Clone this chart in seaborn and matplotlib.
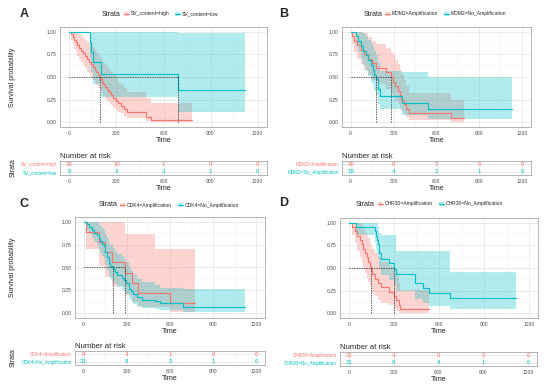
import matplotlib
matplotlib.use('Agg')
import matplotlib.pyplot as plt
import seaborn as sns
from matplotlib.patches import Patch
from matplotlib.lines import Line2D

RED = '#F8766D'
TEAL = '#00BFC4'

time_ticks = [0, 300, 600, 900, 1200]
surv_ticks = [0, 0.25, 0.5, 0.75, 1.0]

# ---- panel A : SV_content ----
a_labels = ['SV_content=high', 'SV_content=low']
a_hi_t = [0, 12, 22, 30, 40, 50, 60, 72, 85, 100, 110, 122, 135, 148, 160, 170, 182, 195, 205, 215,
          228, 240, 252, 265, 280, 295, 310, 330, 345, 370, 490, 520, 780]
a_hi_s = [1.0, 0.97, 0.94, 0.91, 0.88, 0.85, 0.82, 0.79, 0.76, 0.73, 0.70, 0.67, 0.64, 0.61, 0.58, 0.55,
          0.52, 0.48, 0.45, 0.42, 0.39, 0.36, 0.33, 0.30, 0.27, 0.24, 0.21, 0.18, 0.15, 0.12, 0.06, 0.03, 0.03]
a_hi_up = [1.0, 1.0, 1.0, 1.0, 1.0, 0.99, 0.97, 0.95, 0.93, 0.91, 0.89, 0.87, 0.85, 0.82, 0.80, 0.78,
           0.75, 0.72, 0.69, 0.66, 0.64, 0.61, 0.58, 0.55, 0.52, 0.49, 0.45, 0.42, 0.38, 0.34, 0.27, 0.21, 0.21]
a_hi_lo = [1.0, 0.91, 0.86, 0.81, 0.77, 0.73, 0.70, 0.66, 0.63, 0.60, 0.56, 0.53, 0.50, 0.47, 0.44, 0.41,
           0.38, 0.35, 0.32, 0.29, 0.26, 0.24, 0.21, 0.19, 0.16, 0.14, 0.12, 0.10, 0.07, 0.05, 0.02, 0.005, 0.005]
a_lo_t = [0, 130, 140, 150, 200, 690, 1120]
a_lo_s = [1.0, 0.889, 0.778, 0.667, 0.533, 0.356, 0.356]
a_lo_up = [1.0, 1.0, 1.0, 1.0, 1.0, 0.98, 0.98]
a_lo_lo = [1.0, 0.70, 0.55, 0.42, 0.28, 0.12, 0.12]
a_medians = [195, 690]
a_risk_hi = [33, 10, 1, 0, 0]
a_risk_lo = [9, 3, 3, 1, 0]

# ---- panel B : MDM2 ----
b_labels = ['MDM2=Amplification', 'MDM2=No_Amplification']
b_am_t = [0, 10, 25, 45, 70, 95, 120, 150, 180, 245, 281, 295, 310, 330, 345, 355, 370, 390, 405, 700, 790]
b_am_s = [1.0, 0.95, 0.90, 0.85, 0.80, 0.75, 0.70, 0.65, 0.60, 0.55, 0.50, 0.45, 0.40, 0.35, 0.30, 0.25,
          0.20, 0.15, 0.10, 0.05, 0.05]
b_am_up = [1.0, 1.0, 1.0, 1.0, 1.0, 0.98, 0.94, 0.90, 0.86, 0.82, 0.78, 0.74, 0.69, 0.64, 0.59, 0.53,
           0.47, 0.40, 0.32, 0.25, 0.25]
b_am_lo = [1.0, 0.86, 0.77, 0.70, 0.64, 0.58, 0.52, 0.47, 0.42, 0.37, 0.32, 0.28, 0.24, 0.20, 0.16, 0.13,
           0.09, 0.06, 0.03, 0.01, 0.01]
b_no_t = [0, 40, 55, 70, 90, 105, 125, 140, 155, 165, 176, 190, 205, 356, 544, 1130]
b_no_s = [1.0, 0.947, 0.895, 0.842, 0.789, 0.737, 0.684, 0.632, 0.579, 0.526, 0.474, 0.368, 0.295, 0.21,
          0.145, 0.145]
b_no_up = [1.0, 1.0, 1.0, 1.0, 0.98, 0.95, 0.91, 0.87, 0.83, 0.79, 0.74, 0.66, 0.57, 0.55, 0.50, 0.50]
b_no_lo = [1.0, 0.85, 0.77, 0.70, 0.63, 0.57, 0.51, 0.45, 0.40, 0.35, 0.30, 0.20, 0.15, 0.08, 0.04, 0.04]
b_medians = [281, 176]
b_risk_am = [20, 6, 2, 0, 0]
b_risk_no = [19, 4, 2, 1, 0]

# ---- panel C : CDK4 ----
c_labels = ['CDK4=Amplification', 'CDK4=No_Amplification']
c_am_t = [0, 15, 105, 150, 196, 284, 335, 380, 496, 600, 775]
c_am_s = [1.0, 0.889, 0.778, 0.667, 0.556, 0.444, 0.333, 0.222, 0.222, 0.111, 0.111]
c_am_up = [1.0, 1.0, 1.0, 1.0, 1.0, 0.86, 0.86, 0.86, 0.70, 0.70, 0.70]
c_am_lo = [1.0, 0.70, 0.52, 0.40, 0.30, 0.20, 0.12, 0.07, 0.07, 0.02, 0.02]
c_no_t = [0, 20, 40, 60, 75, 90, 105, 115, 125, 140, 150, 160, 173, 185, 201, 215, 231, 265, 280, 295,
          312, 330, 346, 370, 404, 496, 531, 692, 1120]
c_no_s = [1.0, 0.97, 0.94, 0.91, 0.88, 0.85, 0.82, 0.79, 0.76, 0.73, 0.67, 0.61, 0.55, 0.52, 0.48, 0.45,
          0.42, 0.39, 0.36, 0.33, 0.27, 0.24, 0.21, 0.18, 0.15, 0.13, 0.11, 0.075, 0.075]
c_no_up = [1.0, 1.0, 1.0, 1.0, 1.0, 1.0, 0.97, 0.95, 0.93, 0.91, 0.87, 0.82, 0.77, 0.74, 0.71, 0.68,
           0.65, 0.62, 0.59, 0.56, 0.50, 0.46, 0.42, 0.38, 0.34, 0.31, 0.28, 0.27, 0.27]
c_no_lo = [1.0, 0.91, 0.86, 0.82, 0.78, 0.74, 0.70, 0.66, 0.63, 0.60, 0.53, 0.47, 0.41, 0.38, 0.35, 0.32,
           0.29, 0.26, 0.23, 0.21, 0.16, 0.13, 0.10, 0.08, 0.06, 0.05, 0.04, 0.02, 0.02]
c_medians = [284, 201]
c_risk_am = [9, 4, 1, 0, 0]
c_risk_no = [33, 9, 3, 1, 0]

# ---- panel D : CHR30 ----
d_labels = ['CHR30=Amplification', 'CHR30=No_Amplification']
d_am_t = [0, 21, 43, 55, 70, 86, 96, 107, 118, 128, 139, 146, 155, 170, 190, 215, 268, 300, 315, 330, 343, 536]
d_am_s = [1.0, 0.952, 0.905, 0.857, 0.810, 0.762, 0.714, 0.667, 0.619, 0.571, 0.524, 0.476, 0.429, 0.381,
          0.333, 0.286, 0.238, 0.19, 0.143, 0.095, 0.048, 0.048]
d_am_up = [1.0, 1.0, 1.0, 1.0, 1.0, 0.97, 0.93, 0.90, 0.86, 0.83, 0.79, 0.75, 0.71, 0.67, 0.62, 0.57,
           0.52, 0.46, 0.40, 0.33, 0.26, 0.26]
d_am_lo = [1.0, 0.86, 0.77, 0.69, 0.62, 0.55, 0.49, 0.44, 0.39, 0.35, 0.31, 0.27, 0.23, 0.19, 0.15, 0.12,
           0.09, 0.06, 0.03, 0.01, 0.0, 0.0]
d_no_t = [0, 45, 171, 178, 185, 193, 200, 214, 268, 300, 311, 439, 493, 536, 675, 1110]
d_no_s = [1.0, 0.952, 0.905, 0.857, 0.810, 0.762, 0.667, 0.60, 0.55, 0.49, 0.43, 0.33, 0.28, 0.22, 0.165, 0.165]
d_no_up = [1.0, 1.0, 1.0, 1.0, 1.0, 0.95, 0.88, 0.86, 0.86, 0.86, 0.69, 0.69, 0.69, 0.69, 0.46, 0.46]
d_no_lo = [1.0, 0.86, 0.78, 0.72, 0.66, 0.60, 0.50, 0.42, 0.37, 0.31, 0.25, 0.16, 0.12, 0.08, 0.05, 0.05]
d_medians = [146, 300]
d_risk_am = [21, 4, 0, 0, 0]
d_risk_no = [21, 9, 4, 1, 0]

sns.set_style('whitegrid')
plt.rcParams['font.family'] = ['Liberation Sans', 'DejaVu Sans']

W, H = 550, 388
fig = plt.figure(figsize=(5.5, 3.88), dpi=100)


def px_axes(l, t, r, b):
    return fig.add_axes([l / W, 1 - b / H, (r - l) / W, (b - t) / H])


def style_ax(ax):
    ax.set_xlim(-60, 1260)
    ax.set_xticks(time_ticks)
    ax.set_xticks([150, 450, 750, 1050], minor=True)
    ax.set_axisbelow(True)
    ax.grid(True, which='major', color='#E4E4E4', lw=0.5)
    ax.grid(True, which='minor', color='#F0F0F0', lw=0.3)
    for sp in ax.spines.values():
        sp.set_visible(True)
        sp.set_color('#A8A8A8')
        sp.set_linewidth(0.6)
    ax.tick_params(axis='both', which='major', length=1.6, width=0.4, color='#555555',
                   labelsize=3.6, pad=1, labelcolor='#4D4D4D')
    ax.tick_params(axis='both', which='minor', length=0)


def km_panel(ax, curves, meds):
    style_ax(ax)
    for t, s, lo, up, col in curves:
        ax.fill_between(t, lo, up, step='post', color=col, alpha=0.3, lw=0)
    for t, s, lo, up, col in curves:
        sns.lineplot(x=t, y=s, drawstyle='steps-post', color=col, lw=0.85, ax=ax,
                     estimator=None, sort=False)
    ax.plot([0, max(meds)], [0.5, 0.5], color='#222222', lw=0.5, ls=(0, (2, 1.5)))
    for m in meds:
        ax.plot([m, m], [0, 0.5], color='#222222', lw=0.5, ls=(0, (2, 1.5)))
    ax.set_ylim(-0.05, 1.05)
    ax.set_yticks(surv_ticks)
    ax.set_yticks([0.125, 0.375, 0.625, 0.875], minor=True)
    ax.set_yticklabels(['0.00', '0.25', '0.50', '0.75', '1.00'])
    ax.set_xlabel('Time', fontsize=5.2, labelpad=1)
    ax.set_ylabel('')


def risk_table(ax, labels, rows):
    style_ax(ax)
    ax.set_ylim(-0.4, 1.4)
    ax.set_yticks([1, 0])
    ax.set_yticklabels(labels)
    ax.tick_params(axis='y', labelsize=3.3, pad=0.8)
    for tl, c in zip(ax.get_yticklabels(), (RED, TEAL)):
        tl.set_color(c)
    for yv, vals, c in zip((1, 0), rows, (RED, TEAL)):
        for x, v in zip(time_ticks, vals):
            ax.text(x, yv, str(v), color=c, ha='center', va='center', fontsize=4.3)
    ax.set_title('Number at risk', loc='left', fontsize=5.6, pad=2.5)
    ax.set_xlabel('Time', fontsize=5.2, labelpad=1)


def strata_legend(labels, x_title, x_leg, y):
    fig.text(x_title / W, 1 - y / H, 'Strata', fontsize=5, va='center', color='#222222')
    handles = [(Patch(facecolor=c, alpha=0.3, edgecolor='none'), Line2D([], [], color=c, lw=0.8))
               for c in (RED, TEAL)]
    fig.legend(handles, labels, loc='center left', bbox_to_anchor=(x_leg / W, 1 - y / H),
               ncol=2, frameon=False, fontsize=3.6, handlelength=1.0, handleheight=1.0,
               handletextpad=0.4, columnspacing=1.1, borderpad=0, borderaxespad=0)


panels = [
    ((60, 27, 267, 127), (60, 161, 267, 175),
     [(a_hi_t, a_hi_s, a_hi_lo, a_hi_up, RED), (a_lo_t, a_lo_s, a_lo_lo, a_lo_up, TEAL)],
     a_medians, a_labels, [a_risk_hi, a_risk_lo], 'A', (20, 14), (102, 124, 14)),
    ((342, 27, 531, 127), (342, 161, 531, 175),
     [(b_am_t, b_am_s, b_am_lo, b_am_up, RED), (b_no_t, b_no_s, b_no_lo, b_no_up, TEAL)],
     b_medians, b_labels, [b_risk_am, b_risk_no], 'B', (279, 14), (364, 385, 14)),
    ((75, 217, 265, 318), (75, 351, 265, 365),
     [(c_am_t, c_am_s, c_am_lo, c_am_up, RED), (c_no_t, c_no_s, c_no_lo, c_no_up, TEAL)],
     c_medians, c_labels, [c_risk_am, c_risk_no], 'C', (20, 204), (99, 120, 205)),
    ((340, 218, 538, 318), (340, 352, 537, 366),
     [(d_am_t, d_am_s, d_am_lo, d_am_up, RED), (d_no_t, d_no_s, d_no_lo, d_no_up, TEAL)],
     d_medians, d_labels, [d_risk_am, d_risk_no], 'D', (279, 203), (356, 378, 204)),
]

for main_box, tab_box, curves, meds, labels, rows, letter, lpos, legpos in panels:
    ax = px_axes(*main_box)
    km_panel(ax, curves, meds)
    tab = px_axes(*tab_box)
    risk_table(tab, labels, rows)
    fig.text(lpos[0] / W, 1 - lpos[1] / H, letter, fontsize=9, fontweight='bold', va='center')
    strata_legend(labels, *legpos)

fig.text(13 / W, 1 - 77 / H, 'Survival probability', rotation=90, fontsize=5, va='center', ha='center')
fig.text(13 / W, 1 - 267 / H, 'Survival probability', rotation=90, fontsize=5, va='center', ha='center')
fig.text(13 / W, 1 - 168 / H, 'Strata', rotation=90, fontsize=5, va='center', ha='center')
fig.text(13 / W, 1 - 358 / H, 'Strata', rotation=90, fontsize=5, va='center', ha='center')

fig.savefig('out.png', dpi=100)
